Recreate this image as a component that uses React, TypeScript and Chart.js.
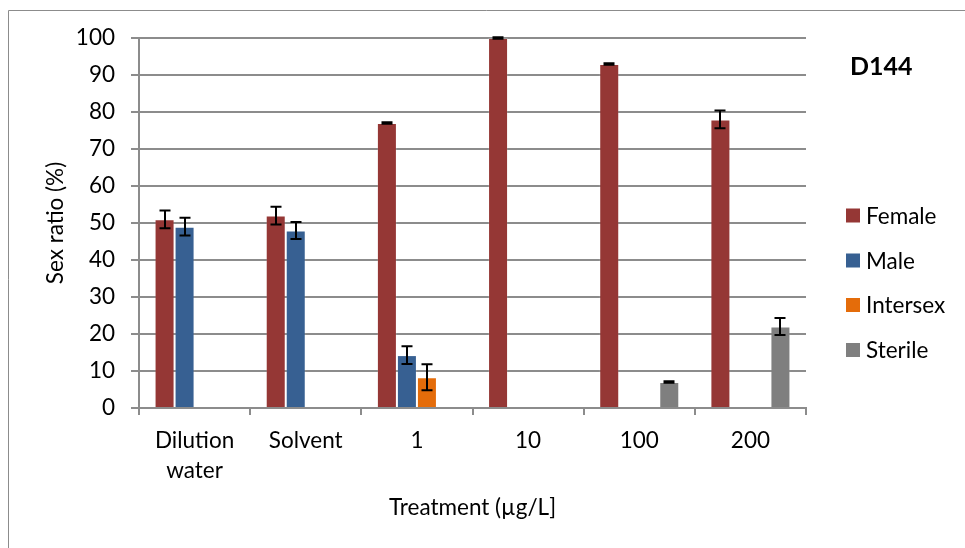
import React, { useEffect, useRef } from "react";
import { Chart, registerables } from "chart.js";

Chart.register(...registerables);

const categories: (string | string[])[] = [["Dilution", "water"], "Solvent", "1", "10", "100", "200"];
const seriesNames = ["Female", "Male", "Intersex", "Sterile"];
const seriesColors = ["#953735", "#376092", "#e46c0a", "#7f7f7f"];
const female = [51, 52, 77, 100, 93, 78];
const femaleErr = [2.4, 2.4, 0.2, 0.2, 0.2, 2.4];
const male = [49, 48, 14.3, 0, 0, 0];
const maleErr = [2.4, 2.3, 2.4, 0, 0, 0];
const intersex = [0, 0, 8.3, 0, 0, 0];
const intersexErr = [0, 0, 3.5, 0, 0, 0];
const sterile = [0, 0, 0, 0, 7, 22];
const sterileErr = [0, 0, 0, 0, 0.2, 2.3];
const yTicks = [0, 10, 20, 30, 40, 50, 60, 70, 80, 90, 100];
const chartTitle = "D144";
const xTitle = "Treatment (µg/L]";
const yTitle = "Sex ratio (%)";

const values = [female, male, intersex, sterile];
const errors = [femaleErr, maleErr, intersexErr, sterileErr];

const FONT = "Lato";
const FS = 22.5;

const errorBarPlugin = {
  id: "errorBars",
  afterDatasetsDraw(chart: any) {
    const ctx = chart.ctx;
    const y = chart.scales.y;
    ctx.save();
    ctx.strokeStyle = "#000";
    ctx.lineWidth = 2;
    chart.data.datasets.forEach((ds: any, i: number) => {
      const meta = chart.getDatasetMeta(i);
      const errs = ds.errors || [];
      meta.data.forEach((el: any, j: number) => {
        const v = ds.data[j];
        const e = errs[j];
        if (v == null || !e || v === 0) return;
        const top = y.getPixelForValue(v + e);
        const bot = y.getPixelForValue(v - e);
        const x = Math.round(el.x);
        const cw = 5.5;
        ctx.beginPath();
        ctx.moveTo(x, top);
        ctx.lineTo(x, bot);
        ctx.moveTo(x - cw, top);
        ctx.lineTo(x + cw, top);
        ctx.moveTo(x - cw, bot);
        ctx.lineTo(x + cw, bot);
        ctx.stroke();
      });
    });
    ctx.restore();
  },
};

const decorPlugin = {
  id: "decor",
  afterDraw(chart: any) {
    const ctx = chart.ctx;
    const W = chart.width;
    const H = chart.height;
    ctx.save();
    // outer frame
    ctx.strokeStyle = "#8c8c8c";
    ctx.lineWidth = 1;
    ctx.beginPath();
    ctx.moveTo(8.5, H);
    ctx.lineTo(8.5, 10.5);
    ctx.lineTo(W, 10.5);
    ctx.stroke();
    // title
    ctx.fillStyle = "#000";
    ctx.font = `bold 25px ${FONT}`;
    ctx.textAlign = "left";
    ctx.textBaseline = "middle";
    ctx.fillText(chartTitle, 850, 67);
    // legend
    ctx.font = `${FS}px ${FONT}`;
    const centers = [215.5, 260.5, 305, 350];
    chart.data.datasets.forEach((ds: any, i: number) => {
      const cy = centers[i];
      ctx.fillStyle = ds.backgroundColor;
      ctx.fillRect(846, cy - 7, 14, 14);
      ctx.fillStyle = "#000";
      ctx.fillText(ds.label, 866, cy + 1);
    });
    ctx.restore();
  },
};

export default function App() {
  const ref = useRef<HTMLCanvasElement | null>(null);
  useEffect(() => {
    let chart: any = null;
    let cancelled = false;
    const make = () => {
      if (cancelled || !ref.current) return;
      chart = new Chart(ref.current, {
        type: "bar",
        data: {
          labels: categories,
          datasets: seriesNames.map((name, i) => ({
            label: name,
            data: values[i],
            errors: errors[i],
            backgroundColor: seriesColors[i],
            borderColor: "rgba(255,255,255,0.14)",
            borderWidth: 1,
            barPercentage: 1,
            categoryPercentage: 0.72,
          })) as any,
        },
        options: {
          animation: false,
          responsive: false,
          devicePixelRatio: 1,
          layout: { padding: { top: 38, right: 159, left: 0, bottom: 0 } },
          plugins: {
            legend: { display: false },
            tooltip: { enabled: false },
            title: { display: false },
          },
          scales: {
            x: {
              grid: {
                display: true,
                drawOnChartArea: false,
                drawTicks: true,
                tickLength: 7,
                color: "#8c8c8c",
                lineWidth: 2,
                offset: true,
              },
              border: { display: true, color: "#8c8c8c", width: 2 },
              ticks: {
                color: "#000",
                font: { family: FONT, size: FS, lineHeight: 1.33 },
                padding: 11,
                maxRotation: 0,
                autoSkip: false,
              },
              title: {
                display: true,
                text: xTitle,
                color: "#000",
                font: { family: FONT, size: FS },
                padding: { top: 0, bottom: 26.5 },
              },
              afterFit(scale: any) {
                scale.height = 140;
              },
            },
            y: {
              min: 0,
              max: 100,
              afterBuildTicks(scale: any) {
                scale.ticks = yTicks.map((v) => ({ value: v }));
              },
              grid: {
                color: "#8c8c8c",
                lineWidth: 2,
                drawTicks: true,
                tickLength: 8,
              },
              border: { display: true, color: "#8c8c8c", width: 2 },
              ticks: {
                color: "#000",
                font: { family: FONT, size: FS },
                padding: 16,
              },
              title: {
                display: true,
                text: yTitle,
                color: "#000",
                font: { family: FONT, size: FS },
                padding: { top: 42.5, bottom: 0 },
              },
              afterFit(scale: any) {
                scale.width = 139;
              },
            },
          },
        },
        plugins: [errorBarPlugin, decorPlugin],
      } as any);
    };
    const fonts: any = (document as any).fonts;
    if (fonts && fonts.load) {
      Promise.all([fonts.load(`${FS}px ${FONT}`), fonts.load(`bold 25px ${FONT}`)])
        .catch(() => {})
        .then(make);
    } else {
      make();
    }
    return () => {
      cancelled = true;
      if (chart) chart.destroy();
    };
  }, []);
  return (
    <div style={{ position: "fixed", left: 0, top: 0, width: 965, height: 548, background: "#fff", overflow: "hidden" }}>
      <canvas ref={ref} width={965} height={548} style={{ display: "block" }} />
    </div>
  );
}
